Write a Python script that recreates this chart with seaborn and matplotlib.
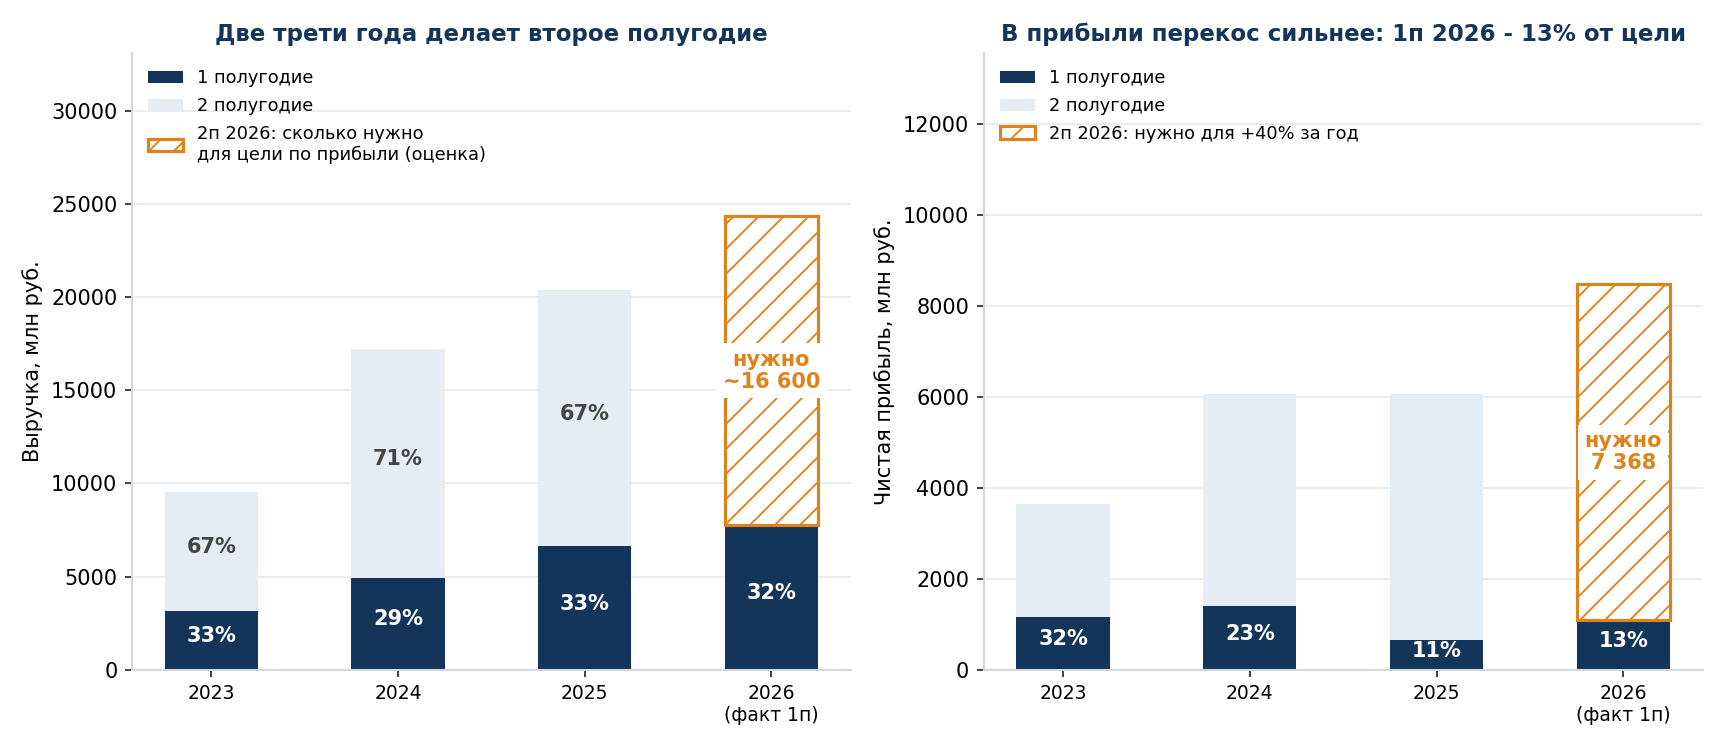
import matplotlib
matplotlib.use("Agg")
import matplotlib.pyplot as plt
from matplotlib.patches import Patch
import seaborn as sns

# data
years = ["2023", "2024", "2025", "2026\n(факт 1п)"]

rev_h1 = [3150, 4950, 6650, 7750]
rev_total = [9550, 17200, 20400]          # full years 2023-2025
rev_need = 16600                           # 2н 2026 needed
rev_need_label = "нужно\n~16 600"

profit_h1 = [1160, 1400, 650, 1100]
profit_total = [3640, 6050, 6050]
profit_need = 7368
profit_need_label = "нужно\n7 368"

NAVY = "#13355a"
LIGHT = "#e6ecf3"
ORANGE = "#e0821a"
GREY_TXT = "#444444"

sns.set_style("white")
plt.rcParams["font.family"] = ["DejaVu Sans"]
plt.rcParams["hatch.linewidth"] = 0.9
plt.rcParams["hatch.color"] = ORANGE
for k in ["text.color", "axes.labelcolor", "xtick.labelcolor", "ytick.labelcolor"]:
    plt.rcParams[k] = "black"


def pct_label(ax, x, y, txt, color):
    # small upward nudge so the glyphs sit like in the reference
    ax.annotate(txt, (x, y), xytext=(0, 2), textcoords="offset points",
                ha="center", va="center", color=color, fontsize=10,
                fontweight="bold", zorder=5)


def draw_panel(ax, h1, totals, need, need_label, title, ylabel, legend_need, ylim, yticks, show_h2_pct):
    sns.barplot(x=years[:len(totals)], y=totals, order=years, color=LIGHT,
                width=0.5, linewidth=0, errorbar=None, saturation=1, ax=ax)
    sns.barplot(x=years, y=h1, order=years, color=NAVY,
                width=0.5, linewidth=0, errorbar=None, saturation=1, ax=ax)
    last = len(years) - 1
    ax.bar(last, need, bottom=h1[last], width=0.5, facecolor="white",
           edgecolor=ORANGE, hatch="//", linewidth=1.5, zorder=3)

    full = list(totals) + [h1[last] + need]
    for i, v in enumerate(h1):
        pct_label(ax, i, v / 2, f"{round(100 * v / full[i])}%", "white")
        if show_h2_pct and i < len(totals):
            h2 = totals[i] - v
            pct_label(ax, i, v + h2 / 2, f"{round(100 * h2 / totals[i])}%", GREY_TXT)
    ax.text(last, h1[last] + need / 2, need_label, ha="center", va="center",
            color=ORANGE, fontsize=10, fontweight="bold", linespacing=1.15, zorder=6,
            bbox=dict(boxstyle="square,pad=0.3", facecolor="white", edgecolor="none"))

    ax.set_xlim(-0.425, last + 0.425)
    ax.set_ylim(0, ylim)
    ax.set_yticks(yticks)
    ax.set_axisbelow(True)
    ax.yaxis.grid(True, color="#e8edf2", linewidth=1)
    ax.xaxis.grid(False)
    for s in ["top", "right"]:
        ax.spines[s].set_visible(False)
    for s in ["left", "bottom"]:
        ax.spines[s].set_color("#d3d8e0")
        ax.spines[s].set_linewidth(1)
    ax.tick_params(axis="y", labelsize=10, length=3.5, width=0.8, color="#222222", left=True)
    ax.tick_params(axis="x", labelsize=9, length=3.5, width=0.8, color="#222222", bottom=True)
    ax.set_xlabel("")
    ax.set_ylabel(ylabel, fontsize=10)
    ax.set_title(title, fontsize=11, fontweight="bold", color=NAVY)

    handles = [Patch(facecolor=NAVY, edgecolor="none", label="1 полугодие"),
               Patch(facecolor=LIGHT, edgecolor="none", label="2 полугодие"),
               Patch(facecolor="white", edgecolor=ORANGE, hatch="//", linewidth=1.5, label=legend_need)]
    ax.legend(handles=handles, loc="upper left", frameon=False, fontsize=8.5, labelspacing=0.55)


fig, (ax1, ax2) = plt.subplots(1, 2, figsize=(11.5, 5), dpi=150)
fig.subplots_adjust(left=0.0765, right=0.987, top=0.929, bottom=0.107, wspace=0.185)

draw_panel(ax1, rev_h1, rev_total, rev_need, rev_need_label,
           "Две трети года делает второе полугодие", "Выручка, млн руб.",
           "2п 2026: сколько нужно\nдля цели по прибыли (оценка)",
           33100, range(0, 30001, 5000), True)
draw_panel(ax2, profit_h1, profit_total, profit_need, profit_need_label,
           "В прибыли перекос сильнее: 1п 2026 - 13% от цели", "Чистая прибыль, млн руб.",
           "2п 2026: нужно для +40% за год",
           13550, range(0, 12001, 2000), False)

fig.savefig("out.png", dpi=150)
